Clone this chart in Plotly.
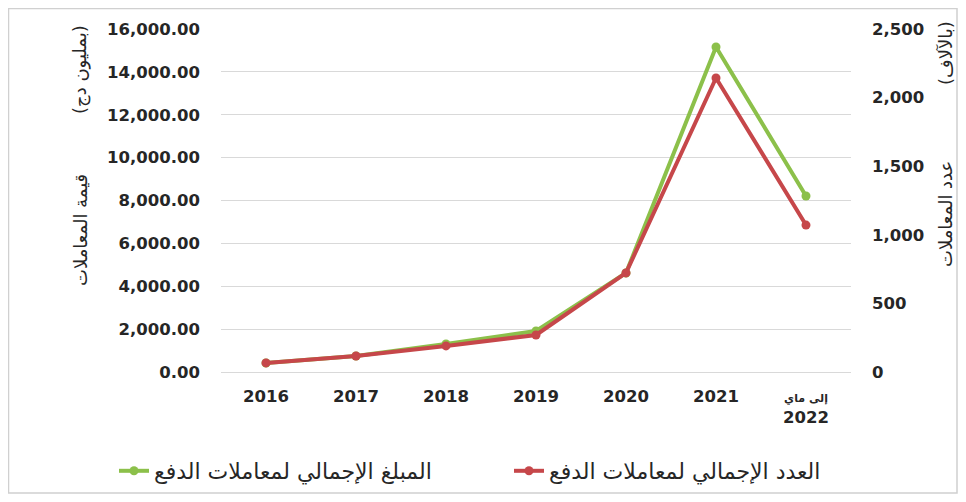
import plotly.graph_objects as go

# ---- data ----
categories = ["2016", "2017", "2018", "2019", "2020", "2021", "2022*"]
tick_labels = ["2016", "2017", "2018", "2019", "2020", "2021",
               "<span style='font-size:11px'>إلى ماي</span><br>2022"]
amount_mdzd = [420, 746, 1306, 1912, 4618, 15160, 8210]      # المبلغ الإجمالي (بمليون دج)
count_thousands = [66, 117, 190, 270, 722, 2143, 1071]        # العدد الإجمالي (بالآلاف)

name_amount = "المبلغ الإجمالي لمعاملات الدفع"
name_count = "العدد الإجمالي لمعاملات الدفع"
left_title_a = "(بمليون دج)"
left_title_b = "قيمة المعاملات"
right_title_a = "(بالآلاف)"
right_title_b = "عدد المعاملات"

GREEN = "#8CC04A"
RED = "#C6474A"
GRID = "#D9D9D9"
TICKFONT = dict(family="DejaVu Sans", size=16.5, color="#262626", weight="bold")

OFF = 8                      # page body margin
W, H = 950, 486
L, R, T, B = 213, 107, 21, 122
pw, ph = W - L - R, H - T - B

def px_x(x):                 # reference-picture x -> paper
    return (x - OFF - L) / pw

def px_y(y):                 # reference-picture y -> paper
    return (H - B - (y - OFF)) / ph

fig = go.Figure()
fig.add_trace(go.Scatter(
    x=categories, y=amount_mdzd, name=name_amount, mode="lines+markers",
    line=dict(color=GREEN, width=4), marker=dict(color=GREEN, size=9),
    yaxis="y"))
fig.add_trace(go.Scatter(
    x=categories, y=count_thousands, name=name_count, mode="lines+markers",
    line=dict(color=RED, width=4), marker=dict(color=RED, size=9),
    yaxis="y2"))

fig.update_layout(
    width=W, height=H,
    margin=dict(l=L, r=R, t=T, b=B, autoexpand=False),
    paper_bgcolor="white", plot_bgcolor="white",
    font=dict(family="DejaVu Sans", color="#262626"),
    xaxis=dict(type="category", range=[-0.5, 6.5], tickvals=categories,
               ticktext=tick_labels, tickfont=TICKFONT, showgrid=False,
               showline=False, zeroline=False, ticks="", ticklabelstandoff=12,
               automargin=False),
    yaxis=dict(range=[0, 16000], dtick=2000, tickformat=",.2f",
               tickfont=TICKFONT, showgrid=True, gridcolor=GRID, gridwidth=1.3,
               zeroline=True, zerolinecolor=GRID, zerolinewidth=1.3,
               showline=False, ticks="", ticklabelstandoff=20, automargin=False),
    yaxis2=dict(range=[0, 2500], dtick=500, tickformat=",", overlaying="y",
                side="right", tickfont=TICKFONT, showgrid=False,
                zeroline=False, showline=False, ticks="", ticklabelstandoff=20,
                automargin=False),
    legend=dict(orientation="h", x=px_x(114), xanchor="left",
                y=px_y(471), yanchor="middle", entrywidth=350,
                font=dict(family="DejaVu Sans", size=22, color="#262626")),
    showlegend=True,
)

def vtitle(text, x, y):
    fig.add_annotation(text=text, x=px_x(x), y=px_y(y), xref="paper", yref="paper",
                       xanchor="center", yanchor="middle",
                       showarrow=False, textangle=-90,
                       font=dict(family="DejaVu Sans", size=18, color="#262626"))

vtitle(left_title_a, 80, 70)
vtitle(left_title_b, 80, 230)
vtitle(right_title_a, 945, 53)
vtitle(right_title_b, 945, 214)

fig.add_shape(type="rect", xref="paper", yref="paper",
              x0=px_x(OFF + 0.5), x1=px_x(OFF + W - 1), y0=px_y(OFF + H - 1), y1=px_y(OFF + 0.5),
              line=dict(color="#D0D0D0", width=1.5), fillcolor="rgba(0,0,0,0)",
              layer="below")

fig.write_html("out.html")
